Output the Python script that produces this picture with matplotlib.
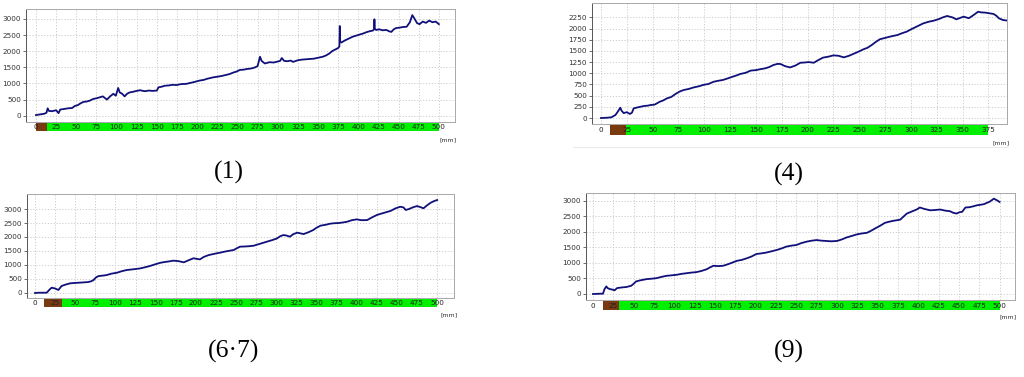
import matplotlib
matplotlib.use('Agg')
import matplotlib.pyplot as plt

# drill resistance traces (depth in mm, amplitude)
p1_mm = [0, 5, 10, 13, 14.5, 16, 20, 25, 28, 30,
         35, 40, 45, 48, 52, 55, 59, 63, 67, 71,
         75, 79, 83, 86, 88, 92, 96, 99, 102, 104,
         107, 110, 113, 116, 120, 125, 129, 135, 140, 145,
         150, 152, 156, 160, 165, 170, 174, 180, 187, 192,
         197, 203, 208, 213, 220, 225, 230, 235, 240, 245,
         249, 253, 258, 262, 266, 271, 275, 278, 280, 284,
         290, 295, 300, 303, 305, 308, 312, 316, 319, 325,
         330, 335, 340, 345, 352, 356, 360, 364, 368, 372,
         375, 376.5, 377, 377.5, 379, 383, 388, 393, 398, 402,
         406, 410, 414, 418, 419.5, 420, 420.5, 422, 426, 430,
         435, 438, 441, 444, 447, 451, 455, 460, 464, 467,
         470, 473, 476, 480, 484, 488, 492, 496, 500]
p1_val = [20, 40, 60, 90, 230, 150, 140, 170, 80, 190,
          210, 230, 240, 300, 330, 380, 430, 440, 470, 520,
          540, 570, 600, 540, 500, 600, 680, 620, 860, 720,
          680, 600, 680, 720, 740, 770, 790, 760, 780, 770,
          780, 880, 900, 930, 940, 960, 950, 980, 990, 1020,
          1050, 1090, 1110, 1150, 1190, 1210, 1230, 1260, 1290, 1340,
          1370, 1420, 1430, 1450, 1460, 1490, 1540, 1830, 1700, 1620,
          1660, 1650, 1680, 1700, 1790, 1700, 1690, 1710, 1670, 1720,
          1740, 1750, 1760, 1770, 1810, 1830, 1870, 1930, 2010, 2060,
          2100, 2150, 2780, 2300, 2270, 2330, 2390, 2450, 2490, 2520,
          2550, 2590, 2620, 2640, 2680, 2990, 2700, 2660, 2680, 2650,
          2660, 2620, 2600, 2680, 2720, 2730, 2750, 2760, 2900, 3120,
          3000, 2870, 2840, 2920, 2880, 2950, 2900, 2920, 2840]

p4_mm = [0, 5, 10, 14, 16.5, 18.7, 20, 22, 25, 28,
         30, 31.6, 35, 38, 42, 45, 48, 52, 57, 60,
         64, 68, 72, 76, 80, 85, 90, 95, 99, 104,
         109, 113, 118, 122, 127, 131, 135, 140, 145, 150,
         154, 159, 163, 167, 171, 174, 178, 183, 188, 193,
         197, 201, 206, 210, 215, 220, 225, 230, 235, 240,
         244, 249, 254, 258, 262, 266, 270, 275, 280, 284,
         287, 292, 296, 300, 304, 308, 312, 317, 322, 327,
         331, 335, 340, 344, 348, 351, 356, 360, 365, 368,
         372, 376, 380, 383, 385, 389, 394]
p4_val = [0, 5, 15, 67, 150, 230, 160, 110, 130, 90,
          120, 215, 235, 250, 270, 275, 290, 300, 365, 390,
          440, 470, 535, 590, 625, 650, 685, 710, 740, 760,
          810, 830, 850, 880, 920, 950, 985, 1010, 1060, 1070,
          1090, 1110, 1140, 1185, 1210, 1205, 1160, 1130, 1170, 1235,
          1240, 1250, 1235, 1290, 1350, 1370, 1400, 1390, 1355, 1390,
          1430, 1480, 1535, 1570, 1630, 1700, 1760, 1790, 1820, 1840,
          1855, 1900, 1930, 1980, 2025, 2070, 2115, 2150, 2175, 2210,
          2250, 2280, 2250, 2205, 2240, 2265, 2230, 2290, 2375, 2360,
          2355, 2340, 2325, 2280, 2230, 2190, 2175]

p67_mm = [0, 5, 10, 14.5, 18, 20.7, 25, 29, 33, 38,
          43.6, 50, 56, 61, 66, 70, 72.6, 76, 79, 84,
          89, 95, 102, 108, 114, 120, 126, 131, 137, 143,
          150, 156, 162, 167, 172, 178, 185, 191, 197, 201,
          205, 210, 216, 223, 230, 238, 247, 251, 255, 260,
          266, 272, 280, 288, 295, 301, 305, 309, 313, 317,
          321, 326, 330, 334, 340, 346, 350, 355, 362, 366,
          371, 378, 383, 388, 394, 400, 406, 413, 419, 425,
          430, 436, 442, 448, 454, 458, 461, 465, 470, 475,
          479, 483, 487, 492, 496, 500]
p67_val = [0, 10, 10, 10, 120, 190, 160, 107, 250, 300,
           345, 360, 370, 380, 390, 420, 460, 560, 605, 620,
           640, 690, 725, 780, 820, 840, 860, 880, 920, 965,
           1030, 1080, 1110, 1130, 1155, 1140, 1095, 1170, 1240, 1220,
           1200, 1290, 1355, 1400, 1440, 1490, 1535, 1600, 1655, 1660,
           1670, 1690, 1760, 1830, 1890, 1950, 2030, 2070, 2050, 2010,
           2100, 2155, 2130, 2105, 2170, 2250, 2330, 2405, 2440, 2470,
           2490, 2500, 2520, 2545, 2600, 2630, 2600, 2605, 2700, 2785,
           2830, 2880, 2930, 3020, 3080, 3060, 2965, 3000, 3060, 3105,
           3070, 3025, 3120, 3225, 3280, 3320]

p9_mm = [0, 5, 10, 12.3, 14, 16.4, 18, 20.5, 24, 26.7,
         29.6, 35, 41, 47, 50, 53, 58, 62, 66, 71,
         78, 84, 90, 96, 103, 109, 115, 121, 127, 133,
         140, 144, 148, 154, 160, 166, 172, 177, 183, 189,
         195, 201, 207, 213, 220, 226, 232, 238, 244, 250,
         256, 263, 269, 275, 281, 287, 293, 300, 306, 312,
         318, 324, 330, 337, 342, 347, 353, 359, 364, 369,
         374, 378, 382, 386, 392, 398, 402, 408, 415, 421,
         427, 433, 439, 443, 447, 451, 454, 458, 463, 468,
         472, 477, 481, 484, 488, 493, 497, 500]
p9_val = [0, 5, 10, 10, 150, 245, 190, 160, 140, 120,
          190, 210, 225, 265, 330, 405, 440, 460, 480, 490,
          510, 550, 585, 600, 620, 650, 670, 690, 705, 740,
          800, 860, 910, 900, 910, 960, 1020, 1070, 1100, 1150,
          1210, 1290, 1310, 1335, 1380, 1420, 1470, 1530, 1560, 1580,
          1640, 1690, 1720, 1740, 1720, 1710, 1700, 1710, 1760, 1825,
          1870, 1920, 1950, 1975, 2040, 2115, 2200, 2295, 2330, 2360,
          2380, 2400, 2500, 2595, 2660, 2725, 2790, 2740, 2700, 2710,
          2725, 2690, 2670, 2620, 2595, 2640, 2650, 2790, 2800, 2830,
          2860, 2880, 2900, 2935, 2980, 3075, 3020, 2970]

captions = ['(1)', '(4)', '(6\u00b77)', '(9)']

W, H = 1024, 377
LINE = '#10107a'
GREEN = '#00f000'
BROWN = '#7a3a10'


def fr(x0, y0, x1, y1):
    # pixel box -> figure fraction
    return [x0 / W, 1 - y1 / H, (x1 - x0) / W, (y1 - y0) / H]


def draw_panel(fig, box, bar_y, xlim, ylim, yticks, xend, brown, mm, val,
               caption, cap_xy, mm_xy):
    ax = fig.add_axes(fr(box[0], box[1], box[2], box[3]))
    ax.plot(mm, val, color=LINE, lw=1.3)
    ax.set_xlim(xlim)
    ax.set_ylim(ylim)
    ax.set_yticks(yticks)
    ax.set_xticks(range(0, xend + 1, 25))
    ax.tick_params(axis='y', labelsize=5.2, length=2, width=0.5, pad=1.5,
                   colors='#333333')
    ax.tick_params(axis='x', length=0, labelbottom=False)
    ax.grid(True, ls=(0, (1.5, 2)), color='#c8c8c8', lw=0.6)
    for side in ['top', 'right', 'bottom']:
        ax.spines[side].set_color('#a8a8a8')
        ax.spines[side].set_linewidth(0.7)
    ax.spines['left'].set_color('#555555')
    ax.spines['left'].set_linewidth(0.7)

    bar = fig.add_axes(fr(box[0], bar_y[0], box[2], bar_y[1]))
    bar.set_xlim(xlim)
    bar.set_ylim(0, 1)
    bar.axis('off')
    bar.axvspan(brown[0], brown[1], color=BROWN, lw=0)
    bar.axvspan(brown[1], xend, color=GREEN, lw=0)
    bar.plot([brown[0], xend], [0.02, 0.02], color='#707070', lw=0.8)
    for v in range(0, xend + 1, 25):
        bar.text(v, 0.45, str(v), ha='center', va='center', fontsize=5.2,
                 color='#222222')

    fig.text(mm_xy[0] / W, 1 - mm_xy[1] / H, '[mm]', fontsize=4.5,
             color='#333333', ha='center', va='center')
    fig.text(cap_xy[0] / W, 1 - cap_xy[1] / H, caption, fontsize=18.5,
             family='Liberation Serif', ha='center', va='center')


fig = plt.figure(figsize=(W / 100, H / 100), dpi=100)

draw_panel(fig, (26, 9, 455, 122), (123, 131), (-12.4, 520), (-195, 3310),
           range(0, 3001, 500), 500, (0, 13.6), p1_mm, p1_val,
           captions[0], (229, 172), (448, 140))
draw_panel(fig, (592, 3, 1007, 124), (125, 135), (-8.7, 393), (-134, 2570),
           range(0, 2251, 250), 375, (8.7, 24.2), p4_mm, p4_val,
           captions[1], (789, 174), (1001, 143))
draw_panel(fig, (27, 194, 454, 298), (299, 307), (-10, 521), (-179, 3536),
           range(0, 3001, 500), 500, (11.2, 33.6), p67_mm, p67_val,
           captions[2], (234, 351), (449, 315))
draw_panel(fig, (586, 193, 1015, 300), (301, 310), (-8.6, 519), (-194, 3258),
           range(0, 3001, 500), 500, (12.3, 32), p9_mm, p9_val,
           captions[3], (789, 351), (1008, 317))

# faint separator under the top-right panel
fig.add_artist(plt.Line2D([573 / W, 1008 / W], [1 - 147 / H, 1 - 147 / H],
                          color='#e6e6e6', lw=0.6))

fig.savefig('out.png', dpi=100)
